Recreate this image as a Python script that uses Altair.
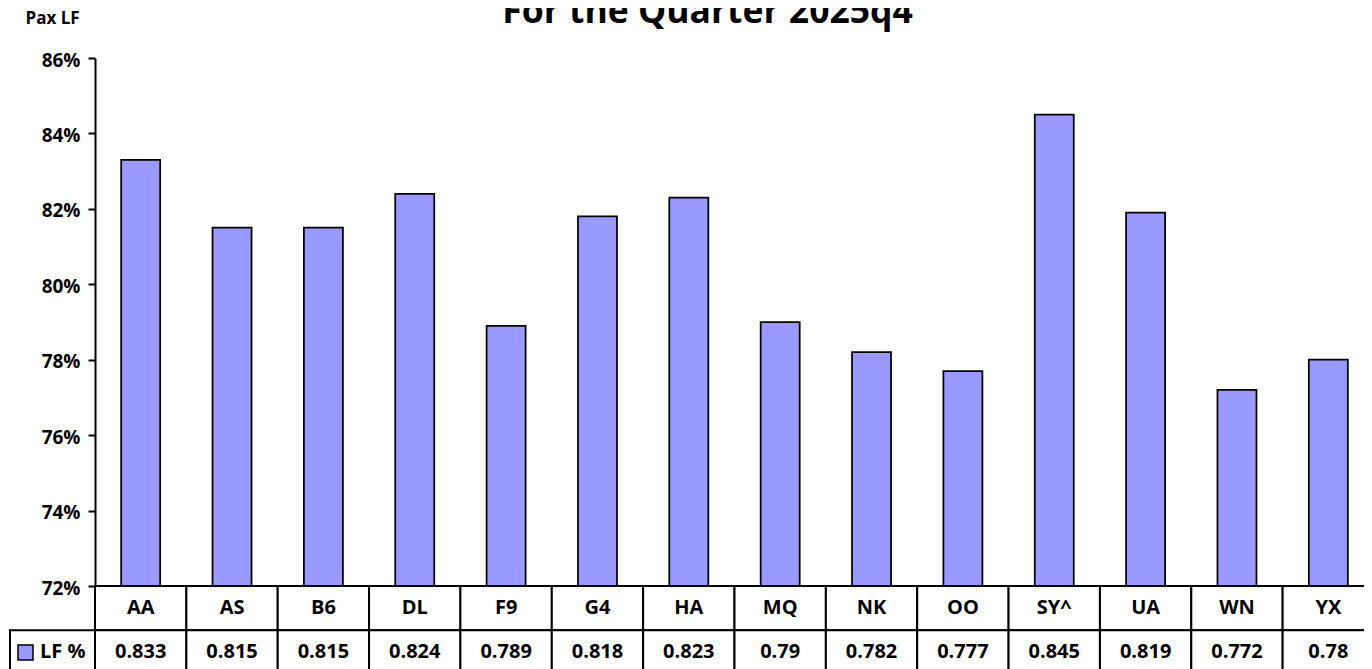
import altair as alt
import pandas as pd

# ---- data ----
carriers = ["AA", "AS", "B6", "DL", "F9", "G4", "HA", "MQ", "NK", "OO", "SY^", "UA", "WN", "YX"]
lf_values = [0.833, 0.815, 0.815, 0.824, 0.789, 0.818, 0.823, 0.79, 0.782, 0.777, 0.845, 0.819, 0.772, 0.78]
y_min, y_max = 0.72, 0.86
y_tick_values = [0.72, 0.74, 0.76, 0.78, 0.80, 0.82, 0.84, 0.86]
table_rows = ["cat", "val"]
series_name = "LF %"
axis_title = "Pax LF"
chart_title = "For the Quarter 2025q4"

# ---- style ----
FONT = "Open Sans"
BAR = "#9999FF"
W = 1279
H = 528
ROW_H = 44.3

bars_df = pd.DataFrame({"carrier": carriers, "lf": lf_values})
title_df = pd.DataFrame({"t": [chart_title]})
table_df = pd.DataFrame({
    "carrier": carriers * 2,
    "row": ["cat"] * len(carriers) + ["val"] * len(carriers),
    "label": carriers + [f"{v:g}" for v in lf_values],
})
legend_df = pd.DataFrame({"row": ["val"], "name": [series_name]})

x_enc = alt.X("carrier:N", sort=carriers,
              scale=alt.Scale(paddingInner=0, paddingOuter=0), axis=None)

bars = alt.Chart(bars_df).mark_bar(
    width={"band": 0.427}, color=BAR, stroke="black", strokeWidth=1.75
).encode(
    x=x_enc,
    y=alt.Y("lf:Q",
            scale=alt.Scale(domain=[y_min, y_max], nice=False, zero=False),
            axis=alt.Axis(values=y_tick_values, format=".0%", grid=False,
                          title=axis_title, titleAngle=0, titleX=-70, titleY=-34.6,
                          titleAlign="left", titleBaseline="alphabetic",
                          titleFont=FONT, titleFontSize=17, titleFontWeight="bold",
                          titleColor="black",
                          labelFont=FONT, labelFontSize=19, labelFontWeight="bold",
                          labelColor="black", labelPadding=8, labelOffset=2,
                          domainColor="black", domainWidth=2,
                          tickColor="black", tickWidth=2, tickSize=7)),
    y2=alt.datum(y_min),
)

title_mark = alt.Chart(title_df).mark_text(
    font=FONT, fontSize=35.5, fontWeight="bold", color="black",
    align="center", baseline="alphabetic"
).encode(x=alt.value(W / 2 - 27), y=alt.value(-35.3), text="t:N")

main = alt.layer(bars, title_mark).properties(width=W, height=H)

y_row = alt.Y("row:N", sort=table_rows,
              scale=alt.Scale(paddingInner=0, paddingOuter=0), axis=None)

cells = alt.Chart(table_df).mark_rect(
    fill="white", stroke="black", strokeWidth=2
).encode(x=x_enc, y=y_row)

cell_text = alt.Chart(table_df).mark_text(
    font=FONT, fontSize=20, fontWeight="bold", color="black"
).encode(x=x_enc, y=y_row, text="label:N")

legend_cell = alt.Chart(legend_df).mark_rect(
    fill="white", stroke="black", strokeWidth=2
).encode(x=alt.value(-85), x2=alt.value(0), y=y_row)

legend_square = alt.Chart(legend_df).mark_square(
    size=225, fill=BAR, stroke="black", strokeWidth=1.5, opacity=1, filled=True
).encode(x=alt.value(-69.5), y=y_row)

legend_text = alt.Chart(legend_df).mark_text(
    font=FONT, fontSize=20, fontWeight="bold", color="black", align="left"
).encode(x=alt.value(-55), y=y_row, text="name:N")

table = alt.layer(cells, cell_text, legend_cell, legend_square, legend_text).properties(
    width=W, height=2 * ROW_H
)

chart = alt.vconcat(main, table, spacing=0, bounds="flush").properties(
    padding={"left": 1, "top": -14, "right": -11, "bottom": 0},
    background="white",
).configure_view(stroke=None)

chart.save("out.html", embed_options={"renderer": "svg", "actions": False})
